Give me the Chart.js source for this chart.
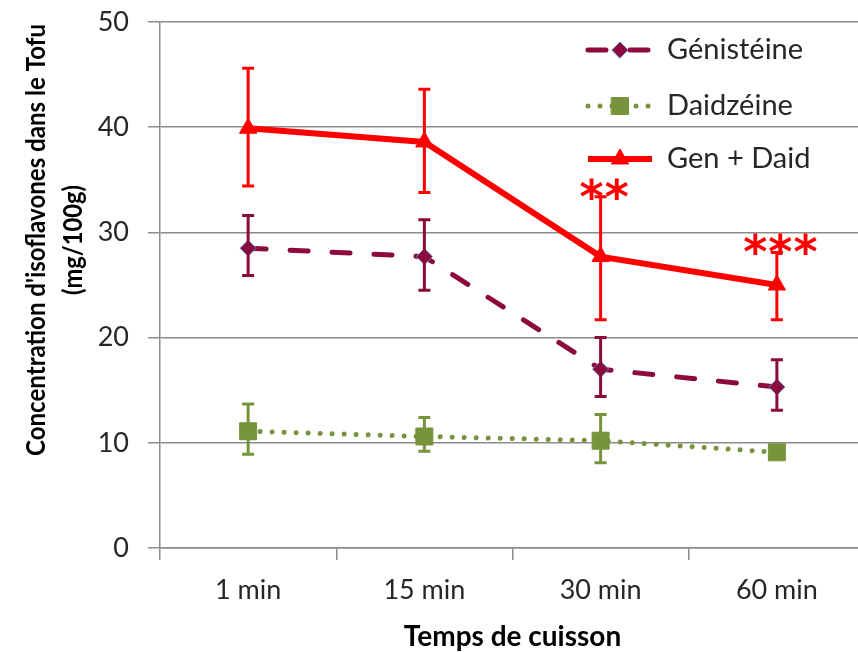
<!DOCTYPE html>
<html>
<head>
<meta charset="utf-8">
<script src="https://cdn.jsdelivr.net/npm/chart.js@4"></script>
<style>
  html, body { margin: 0; padding: 0; background: #fff; overflow: hidden; }
  #wrap { width: 880px; height: 652px; }
</style>
</head>
<body>
<div id="wrap"><canvas id="chart" width="880" height="652"></canvas></div>
<script>
// categories
const times = ["1 min", "15 min", "30 min", "60 min"];

// series values (mg/100g)
const genistein = [28.5, 27.7, 17.0, 15.3];
const daidzein = [11.1, 10.6, 10.2, 9.1];
const genDaid = [39.9, 38.6, 27.7, 25.0];

// error bar ends [low, high]
const genisteinErr = [[25.9, 31.6], [24.5, 31.2], [14.4, 20.0], [13.1, 17.9]];
const daidzeinErr = [[8.9, 13.7], [9.2, 12.4], [8.1, 12.7], null];
const genDaidErr = [[34.4, 45.6], [33.8, 43.6], [21.7, 33.4], [21.7, 28.1]];

// significance marks above Gen + Daid
const significance = ["", "", "**", "***"];

const yTicks = [0, 10, 20, 30, 40, 50];

const GRID = "#8c8c8c";
const TEXT = "#262626";

// error bars + stars
const errorBars = {
  id: "errorBars",
  afterDatasetsDraw(chart) {
    const ctx = chart.ctx;
    const y = chart.scales.y;
    chart.data.datasets.forEach((ds, i) => {
      const meta = chart.getDatasetMeta(i);
      ctx.save();
      ctx.strokeStyle = ds.borderColor;
      ctx.lineWidth = 3;
      ds.errors.forEach((e, j) => {
        if (!e) return;
        const x = meta.data[j].x;
        const y0 = y.getPixelForValue(e[0]);
        const y1 = y.getPixelForValue(e[1]);
        ctx.beginPath();
        ctx.moveTo(x, y0); ctx.lineTo(x, y1);
        ctx.moveTo(x - 6, y0); ctx.lineTo(x + 6, y0);
        ctx.moveTo(x - 6, y1); ctx.lineTo(x + 6, y1);
        ctx.stroke();
      });
      ctx.restore();
    });

    // stars
    const meta = chart.getDatasetMeta(2);
    ctx.save();
    ctx.fillStyle = "#ff0000";
    ctx.font = "bold 46px 'DejaVu Sans'";
    ctx.textAlign = "center";
    ctx.textBaseline = "alphabetic";
    ctx.letterSpacing = "1px";
    significance.forEach((s, j) => {
      if (!s) return;
      const x = meta.data[j].x + 4;
      const yy = y.getPixelForValue(genDaidErr[j][1]) + 16;
      ctx.fillText(s, x, yy);
    });
    ctx.restore();
  },
};

// legend inside the plot, upper right
const insideLegend = {
  id: "insideLegend",
  afterDraw(chart) {
    const ctx = chart.ctx;
    const rows = [50, 106, 159];
    chart.data.datasets.forEach((ds, i) => {
      const yy = rows[i];
      ctx.save();
      ctx.strokeStyle = ds.borderColor;
      ctx.lineWidth = ds.borderWidth;
      ctx.lineCap = ds.borderCapStyle || "butt";
      ctx.setLineDash(ds.borderDash || []);
      ctx.beginPath();
      ctx.moveTo(588, yy);
      ctx.lineTo(652, yy);
      ctx.stroke();
      ctx.setLineDash([]);
      ctx.fillStyle = ds.pointBackgroundColor;
      ctx.strokeStyle = ds.pointBorderColor;
      ctx.lineWidth = ds.pointBorderWidth;
      Chart.helpers.drawPoint(ctx, {
        pointStyle: ds.pointStyle,
        radius: ds.pointRadius,
        borderWidth: ds.pointBorderWidth,
        rotation: 0,
      }, 620, yy);
      ctx.fillStyle = TEXT;
      ctx.font = "29px Lato";
      ctx.textBaseline = "middle";
      ctx.textAlign = "left";
      ctx.fillText(ds.label, 667, yy);
      ctx.restore();
    });
  },
};

// y axis title, two lines
const yTitle = {
  id: "yTitle",
  afterDraw(chart) {
    const ctx = chart.ctx;
    ctx.save();
    ctx.translate(0, 240);
    ctx.rotate(-Math.PI / 2);
    ctx.fillStyle = "#000";
    ctx.font = "bold 27px Lato";
    ctx.textAlign = "center";
    ctx.textBaseline = "alphabetic";
    ctx.fillText("Concentration d'isoflavones dans le Tofu", 0, 45, 432);
    ctx.fillText("(mg/100g)", 0, 82, 110);
    ctx.restore();
  },
};

new Chart(document.getElementById("chart"), {
  type: "line",
  data: {
    labels: times,
    datasets: [
      {
        label: "Génistéine",
        data: genistein,
        errors: genisteinErr,
        borderColor: "#8c0a3c",
        borderWidth: 5,
        borderDash: [18, 24],
        borderCapStyle: "round",
        pointStyle: "rectRot",
        pointRadius: 8,
        pointBackgroundColor: "#8c0a3c",
        pointBorderColor: "#5b7fb8",
        pointBorderWidth: 1,
        tension: 0,
      },
      {
        label: "Daidzéine",
        data: daidzein,
        errors: daidzeinErr,
        borderColor: "#77933c",
        borderWidth: 5,
        borderDash: [0.01, 12],
        borderCapStyle: "round",
        pointStyle: "rect",
        pointRadius: 12,
        pointBackgroundColor: "#77933c",
        pointBorderColor: "#77933c",
        pointBorderWidth: 1,
        tension: 0,
      },
      {
        label: "Gen + Daid",
        data: genDaid,
        errors: genDaidErr,
        borderColor: "#ff0000",
        borderWidth: 6,
        pointStyle: "triangle",
        pointRadius: 10,
        pointBackgroundColor: "#ff0000",
        pointBorderColor: "#ff0000",
        pointBorderWidth: 1,
        tension: 0,
      },
    ],
  },
  options: {
    responsive: false,
    animation: false,
    layout: { padding: { top: 22, right: 15, left: 0, bottom: 0 } },
    plugins: {
      legend: { display: false },
      tooltip: { enabled: false },
    },
    scales: {
      x: {
        offset: true,
        grid: {
          offset: true,
          drawOnChartArea: false,
          drawTicks: true,
          tickLength: 12,
          color: GRID,
          lineWidth: 1.5,
        },
        border: { color: GRID, width: 1.5 },
        ticks: {
          color: TEXT,
          font: { family: "Lato", size: 27 },
          padding: 14,
        },
        title: {
          display: true,
          text: "Temps de cuisson",
          color: "#000",
          font: { family: "Lato", size: 28, weight: "bold" },
          padding: { top: 0, bottom: -2 },
        },
        afterFit(scale) { scale.height = 104; },
      },
      y: {
        min: 0,
        max: 50,
        afterBuildTicks(scale) { scale.ticks = yTicks.map((v) => ({ value: v })); },
        grid: {
          color: GRID,
          lineWidth: 1.5,
          drawTicks: true,
          tickLength: 12,
        },
        border: { color: GRID, width: 1.5 },
        ticks: {
          color: TEXT,
          font: { family: "Lato", size: 27 },
          padding: 19,
        },
        afterFit(scale) {
          scale.width = 160;
          scale.paddingTop = 0;
          scale.paddingBottom = 0;
        },
      },
    },
  },
  plugins: [errorBars, insideLegend, yTitle],
});
</script>
</body>
</html>
